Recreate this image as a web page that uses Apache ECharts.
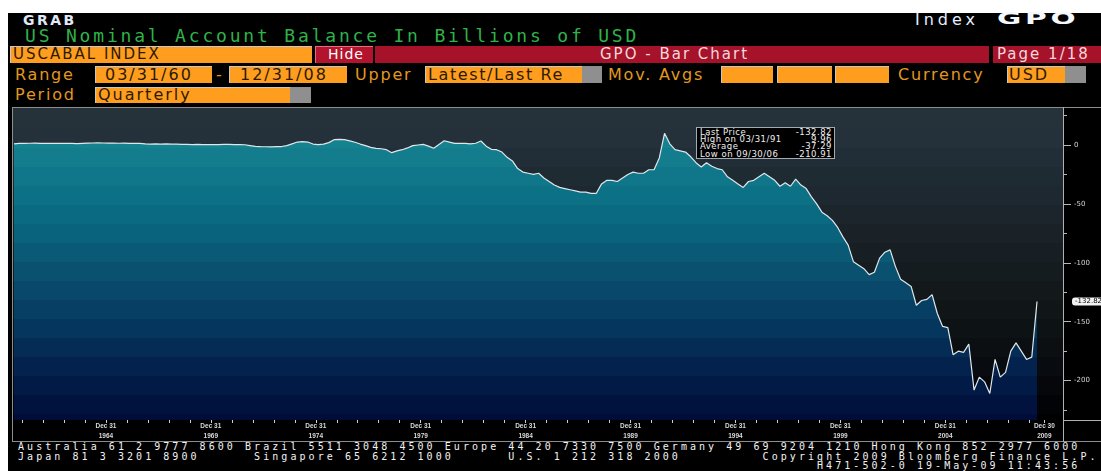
<!DOCTYPE html>
<html>
<head>
<meta charset="utf-8">
<title>GRAB - US Nominal Account Balance</title>
<script src="https://cdn.jsdelivr.net/npm/echarts@6/dist/echarts.min.js"></script>
<style>
  html, body { margin: 0; padding: 0; background: #fff; width: 1101px; height: 471px; overflow: hidden; }
  .abs { position: absolute; white-space: pre; }
  #screen { left: 8px; top: 13px; width: 1093px; height: 458px; background: #000; }
  .lbl { font: 16px/16px "DejaVu Sans"; letter-spacing: 1.8px; color: #e3981f; }
  .box { background: #ff9d1f; border-top: 1px solid #c8c8c8; border-left: 1px solid #c8c8c8; box-sizing: border-box; }
  .gry { background: #8f8f8f; }
  .red { background: #a5122a; }
  .in { font: 16px/16px "DejaVu Sans"; letter-spacing: 2px; color: #2c1a00; }
  .pink { font: 15px/15px "DejaVu Sans"; letter-spacing: 2px; color: #f4d8dc; }
  .foot { font: 10px/9px "DejaVu Sans Mono"; letter-spacing: 3.06px; color: #f2f2f2; }
  .ln { background: #8d8d8d; }
  #stats { left: 696px; top: 127px; width: 137px; height: 29px; border: 1px solid #a3abb0; background: #000; z-index: 3; padding-top: 1px; }
  #stats div { display: flex; justify-content: space-between; font: 8.5px/7.2px "DejaVu Sans"; letter-spacing: 0.5px; color: #f0f0f0; padding: 0 2px 0 3px; }
  #main { left: 0; top: 0; width: 1101px; height: 471px; z-index: 2; }
</style>
</head>
<body>
<div class="abs" id="screen"></div>

<!-- header -->
<div class="abs" style="left:23px;top:14px;font:bold 14px/12px 'DejaVu Sans';letter-spacing:2.5px;color:#e0eaf6">GRAB</div>
<div class="abs" style="left:25px;top:28px;font:18px/16px 'DejaVu Sans Mono';letter-spacing:2.81px;color:#2fb24a">US Nominal Account Balance In Billions of USD</div>
<div class="abs" style="left:915px;top:12px;font:16px/16px 'DejaVu Sans';letter-spacing:4px;color:#e6eeff">Index</div>
<div class="abs" style="left:997px;top:11px;font:bold 16px/16px 'DejaVu Sans';letter-spacing:2px;color:#f4f8ff;transform:scaleX(1.85);transform-origin:left">GPO</div>

<div class="abs box" style="left:10px;top:46px;width:302px;height:17px"></div>
<div class="abs in" style="left:13px;top:47.3px;font-size:15px;line-height:15px">USCABAL INDEX</div>
<div class="abs red" style="left:315px;top:46px;width:58px;height:17px;background:#b3132c;border-top:1px solid #e07080;border-left:1px solid #e07080;box-sizing:border-box"></div>
<div class="abs" style="left:328px;top:46.5px;font:14px/14px 'DejaVu Sans';letter-spacing:1px;color:#fff">Hide</div>
<div class="abs red" style="left:375px;top:46px;width:614px;height:17px"></div>
<div class="abs pink" style="left:600px;top:47.3px">GPO - Bar Chart</div>
<div class="abs red" style="left:993px;top:46px;width:108px;height:17px"></div>
<div class="abs pink" style="left:997px;top:47.3px">Page 1/18</div>

<div class="abs lbl" style="left:15px;top:66.5px">Range</div>
<div class="abs box" style="left:95px;top:66px;width:117px;height:17px"></div>
<div class="abs in" style="left:105px;top:66.5px">03/31/60</div>
<div class="abs lbl" style="left:216px;top:66.5px">-</div>
<div class="abs box" style="left:229px;top:66px;width:118px;height:17px"></div>
<div class="abs in" style="left:240px;top:66.5px">12/31/08</div>
<div class="abs lbl" style="left:355px;top:66.5px">Upper</div>
<div class="abs box" style="left:425px;top:66px;width:157px;height:17px"></div>
<div class="abs gry" style="left:582px;top:66px;width:20px;height:17px"></div>
<div class="abs in" style="left:428px;top:66.5px;letter-spacing:1.6px">Latest/Last Re</div>
<div class="abs lbl" style="left:608px;top:66.5px">Mov. Avgs</div>
<div class="abs box" style="left:721px;top:66px;width:52px;height:17px"></div>
<div class="abs box" style="left:777px;top:66px;width:55px;height:17px"></div>
<div class="abs box" style="left:835px;top:66px;width:54px;height:17px"></div>
<div class="abs lbl" style="left:898px;top:66.5px">Currency</div>
<div class="abs box" style="left:1007px;top:66px;width:58px;height:17px"></div>
<div class="abs gry" style="left:1065px;top:66px;width:21px;height:17px"></div>
<div class="abs in" style="left:1009px;top:66.5px">USD</div>

<div class="abs lbl" style="left:15px;top:86.5px">Period</div>
<div class="abs box" style="left:95px;top:87px;width:195px;height:16px"></div>
<div class="abs gry" style="left:290px;top:87px;width:21px;height:16px"></div>
<div class="abs in" style="left:98px;top:86.5px">Quarterly</div>

<!-- chart panel frame -->
<div class="abs ln" style="left:12px;top:107px;width:1px;height:335px"></div>
<div class="abs ln" style="left:12px;top:107px;width:1089px;height:1px"></div>
<div class="abs ln" style="left:12px;top:441px;width:1089px;height:1px"></div>
<div class="abs ln" style="left:1063px;top:107px;width:1px;height:335px;background:#b0b0b0"></div>
<div class="abs ln" style="left:1063px;top:420px;width:38px;height:1px;background:#b0b0b0"></div>

<div class="abs" id="main"></div>
<div class="abs" id="stats"></div>

<!-- footer -->
<div class="abs foot" style="left:18px;top:442px">Australia 61 2 9777 8600 Brazil 5511 3048 4500 Europe 44 20 7330 7500 Germany 49 69 9204 1210 Hong Kong 852 2977 6000</div>
<div class="abs foot" style="left:18px;top:452px">Japan 81 3 3201 8900      Singapore 65 6212 1000      U.S. 1 212 318 2000         Copyright 2009 Bloomberg Finance L.P.</div>
<div class="abs foot" style="left:817px;top:461px">H471-502-0 19-May-09 11:43:56</div>

<script>
// quarterly current account balance, bn USD, first point = quarter ending 03/31/60
var firstQuarter = 1960.25
var balance = [
  1.0, 1.3, 1.4, 1.5,        // 1960
  1.6, 1.4, 1.3, 1.5,
  1.3, 1.4, 1.3, 1.3,
  1.2, 1.4, 1.6, 1.7,
  1.9, 1.7, 1.6, 1.7,
  1.5, 1.6, 1.4, 1.5,        // 1965
  1.3, 1.0, 0.8, 0.9,
  0.8, 0.9, 0.7, 0.8,
  0.6, 0.5, 0.4, 0.5,
  0.3, 0.4, 0.3, 0.4,
  0.5, 0.6, 0.4, 0.3,        // 1970
  0.2, -0.5, -1.2, -1.4,
  -1.5, -1.6, -1.4, -1.3,
  -0.5, 1.0, 2.5, 2.8,
  2.5, 0.8, 0.3, 0.8,
  2.0, 4.5, 4.8, 4.6,        // 1975
  3.5, 2.3, 0.8, -0.5,
  -2.0, -2.8, -3.2, -4.0,
  -6.5, -5.0, -4.0, -2.5,
  -0.5, 0.0, 0.5, -1.0,
  -2.8, 0.5, 3.6, 2.5,       // 1980
  1.4, 1.5, 1.4, 1.0,
  1.5, 3.4, -1.0, -3.7,
  -4.0, -6.0, -10.5, -13.5,
  -20, -23, -24, -25,
  -24, -28, -31, -34,        // 1985
  -36, -37, -38, -39,
  -40, -40, -41, -41,
  -33, -30, -30, -31,
  -28, -25, -23, -24,
  -24, -21, -21, -11,        // 1990
  9.96, 1, -4, -5,
  -6, -10, -15, -18.6,
  -15, -18, -20, -21,
  -27, -30, -33, -36,
  -31, -30, -27, -24,        // 1995
  -27, -30, -35, -32,
  -35, -29, -34, -37,
  -44, -50, -57, -60,
  -64, -70, -78, -85,
  -99, -102, -105, -110,     // 2000
  -108, -96, -91, -89,
  -103, -114, -117, -120,
  -136, -132, -131, -127,
  -143, -154, -155, -178,
  -175, -176, -169, -208,    // 2005
  -197, -201, -210.91, -182,
  -197, -193, -175, -168,
  -175, -182, -180, -132.82
]

// bottom axis labels
var xTickAt = [1964.63, 1969.63, 1974.63, 1979.63, 1984.63, 1989.63, 1994.63, 1999.63, 2004.63, 2009.35]
var xTickTop = ['Dec 31', 'Dec 31', 'Dec 31', 'Dec 31', 'Dec 31', 'Dec 31', 'Dec 31', 'Dec 31', 'Dec 31', 'Dec 30']
var xTickYear = ['1964', '1969', '1974', '1979', '1984', '1989', '1994', '1999', '2004', '2009']
// right axis
var yLabelAt = [0, -50, -100, -150, -200]
var yMinorAt = [25, -25, -75, -125, -175, -225]

var statRows = [
  ['Last Price', '-132.82'],
  ['High on 03/31/91', '9.96'],
  ['Average', '-37.29'],
  ['Low on 09/30/06', '-210.91']
]

var statsEl = document.getElementById('stats')
statRows.forEach(function (r) {
  var d = document.createElement('div')
  d.innerHTML = '<span>' + r[0] + '</span><span>' + r[1] + '</span>'
  statsEl.appendChild(d)
})

var seriesData = balance.map(function (v, i) { return [firstQuarter + i * 0.25, v] })

var yearTicks = []
for (var t = xTickAt[0] - 4; t < 2009; t += 1) yearTicks.push(t)
yearTicks.push(xTickAt[xTickAt.length - 1])

// horizontal shading bands (grid runs from y=108 to y=420)
var gridTop = 108, gridBottom = 420
var edges = [gridTop]
for (var y = 129; y < gridBottom; y += 19) edges.push(y)
edges.push(gridBottom)

var bgColors = ['#25323a', '#24313a', '#222e37', '#1f2b33', '#1d2830', '#1c252c', '#1a2228', '#171f24', '#151c1f',
  '#13191b', '#101517', '#0d1214', '#0b0f12', '#080b0f', '#05070b', '#020307', '#000000']
var areaColors = ['#18889a', '#15828f', '#137d8e', '#0f7789', '#0c7185', '#0a6a81', '#09637c', '#0a5a76', '#0a5170',
  '#09486a', '#073f64', '#05365d', '#042c55', '#03234e', '#021a46', '#01123e', '#010c38']

function bandStops(colors) {
  var stops = []
  for (var i = 0; i < edges.length - 1; i++) {
    stops.push({ offset: (edges[i] - gridTop) / (gridBottom - gridTop), color: colors[i] })
    stops.push({ offset: (edges[i + 1] - gridTop) / (gridBottom - gridTop), color: colors[i] })
  }
  return stops
}

var chart = echarts.init(document.getElementById('main'), null, { renderer: 'canvas' })
var option = {
  animation: false,
  backgroundColor: 'transparent',
  grid: {
    left: 13, top: gridTop, width: 1050, height: gridBottom - gridTop,
    show: true, borderWidth: 0,
    backgroundColor: new echarts.graphic.LinearGradient(0, 0, 0, 1, bandStops(bgColors))
  },
  xAxis: {
    type: 'value',
    min: 1960.202,
    max: 2010.238,
    axisLine: { show: false, onZero: false },
    splitLine: { show: false },
    axisTick: { show: true, length: 3, customValues: yearTicks, lineStyle: { color: '#d0d0d0' } },
    axisLabel: {
      customValues: xTickAt,
      margin: 1,
      fontSize: 6.5,
      lineHeight: 10,
      fontFamily: 'Liberation Sans',
      fontWeight: 'bold',
      color: '#d8d8d8',
      formatter: function (v) {
        for (var i = 0; i < xTickAt.length; i++) {
          if (Math.abs(xTickAt[i] - v) < 0.01) return xTickTop[i] + '\n' + xTickYear[i]
        }
        return ''
      }
    }
  },
  yAxis: [
    {
      type: 'value',
      position: 'right',
      min: -233.4,
      max: 31.4,
      axisLine: { show: false },
      splitLine: { show: false },
      axisTick: { show: true, length: 8, customValues: yLabelAt, lineStyle: { color: '#b8b8b8' } },
      axisLabel: {
        customValues: yLabelAt,
        margin: 11,
        fontSize: 7,
        fontFamily: 'DejaVu Sans',
        color: '#d4d4d4'
      }
    },
    {
      type: 'value',
      position: 'right',
      min: -233.4,
      max: 31.4,
      axisLine: { show: false },
      splitLine: { show: false },
      axisTick: { show: true, length: 4, customValues: yMinorAt, lineStyle: { color: '#b8b8b8' } },
      axisLabel: { show: false }
    }
  ],
  series: [
    {
      name: 'USCABAL INDEX',
      type: 'line',
      data: seriesData,
      showSymbol: false,
      lineStyle: { color: '#dfe7ea', width: 1.2 },
      areaStyle: {
        origin: 'start',
        opacity: 1,
        color: new echarts.graphic.LinearGradient(0, gridTop, 0, gridBottom, bandStops(areaColors), true)
      },
      // last value tag on the right axis
      endLabel: {
        show: true,
        offset: [27, 0],
        formatter: function (p) { return p.value[1].toFixed(2) },
        fontSize: 7,
        fontFamily: 'DejaVu Sans',
        color: '#000',
        backgroundColor: '#f2f2f2',
        borderRadius: 3,
        padding: [1, 2, 0, 3]
      }
    }
  ]
}
chart.setOption(option)
</script>
</body>
</html>
